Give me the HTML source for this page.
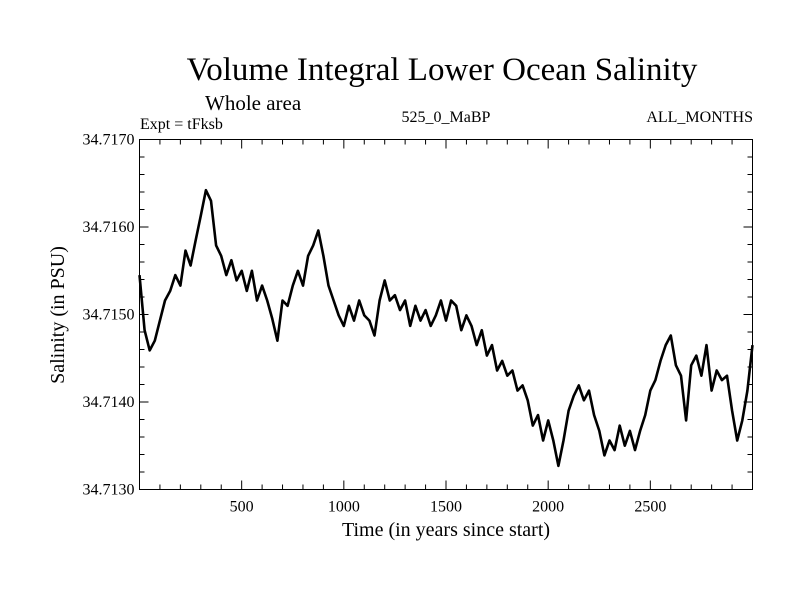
<!DOCTYPE html>
<html><head><meta charset="utf-8"><style>
body{margin:0;background:#fff}
svg text{font-family:"Liberation Serif",serif;fill:#000}
</style></head><body>
<svg width="800" height="600" xmlns="http://www.w3.org/2000/svg">
<rect width="800" height="600" fill="#fff"/>
<text x="442" y="80" font-size="33" text-anchor="middle">Volume Integral Lower Ocean Salinity</text>
<text x="205" y="110" font-size="21">Whole area</text>
<text x="140" y="129" font-size="16">Expt = tFksb</text>
<text x="446" y="122" font-size="16" text-anchor="middle">525_0_MaBP</text>
<text x="753" y="122" font-size="16" text-anchor="end">ALL_MONTHS</text>
<g id="axes"></g>
<path id="series" fill="none" stroke="#000" stroke-width="2.6" stroke-linejoin="round"/>
<rect x="139.5" y="139.5" width="613" height="350" fill="none" stroke="#000" stroke-width="1"/>
<text x="446" y="536" font-size="20" text-anchor="middle">Time (in years since start)</text>
<text transform="translate(64,315) rotate(-90)" font-size="20" text-anchor="middle">Salinity (in PSU)</text>
</svg>
<script>
const years = [];
for (let i = 0; i <= 120; i++) years.push(i * 25);
const salinity = [34.71545,34.71482,34.71459,34.71470,34.71493,34.71516,34.71527,34.71545,34.71533,34.71573,
34.71556,34.71585,34.71613,34.71642,34.71630,34.71579,34.71567,34.71545,34.71562,34.71539,
34.71550,34.71527,34.71550,34.71516,34.71533,34.71516,34.71495,34.71470,34.71516,34.71510,
34.71533,34.71550,34.71533,34.71567,34.71579,34.71596,34.71567,34.71533,34.71516,34.71499,
34.71487,34.71510,34.71493,34.71516,34.71499,34.71493,34.71476,34.71516,34.71539,34.71516,
34.71522,34.71505,34.71516,34.71487,34.71510,34.71493,34.71505,34.71487,34.71499,34.71516,
34.71493,34.71516,34.71510,34.71482,34.71499,34.71487,34.71465,34.71482,34.71453,34.71465,
34.71436,34.71447,34.71430,34.71436,34.71413,34.71419,34.71402,34.71373,34.71385,34.71356,
34.71379,34.71356,34.71327,34.71356,34.71390,34.71407,34.71419,34.71402,34.71413,34.71385,
34.71367,34.71339,34.71356,34.71345,34.71373,34.71350,34.71367,34.71345,34.71367,34.71385,
34.71413,34.71425,34.71447,34.71465,34.71476,34.71442,34.71430,34.71379,34.71442,34.71453,
34.71430,34.71465,34.71413,34.71436,34.71425,34.71430,34.71390,34.71356,34.71379,34.71413,34.71465];
const xTickVals = [500,1000,1500,2000,2500];
const yTickVals = [34.7130,34.7140,34.7150,34.7160,34.7170];
const yTickLabels = ["34.7130","34.7140","34.7150","34.7160","34.7170"];
const X0=139.5,X1=752.5,Y0=489.5,Y1=139.5,xmin=0,xmax=3000,ymin=34.713,ymax=34.717;
const sx=v=>X0+(v-xmin)/(xmax-xmin)*(X1-X0);
const sy=v=>Y0-(v-ymin)/(ymax-ymin)*(Y0-Y1);
let d='';
years.forEach((yr,i)=>{d+=(i?'L':'M')+sx(yr).toFixed(1)+','+sy(salinity[i]).toFixed(1);});
document.getElementById('series').setAttribute('d',d);
const g=document.getElementById('axes');
const NS='http://www.w3.org/2000/svg';
function line(x1,y1,x2,y2,name){const l=document.createElementNS(NS,'line');
l.setAttribute('x1',x1);l.setAttribute('y1',y1);l.setAttribute('x2',x2);l.setAttribute('y2',y2);
l.setAttribute('stroke','#000');l.setAttribute('stroke-width','1');


g.appendChild(l);}
for(let v=100;v<3000;v+=100){const major=v%500===0;const x=sx(v);
line(x,Y0,x,Y0-(major?9:5),'x-tick');line(x,Y1,x,Y1+(major?9:5),'x-tick-top');}
for(let k=1;k<20;k++){const v=ymin+k*0.0002;const major=k%5===0;const y=sy(v);
line(X0,y,X0+(major?9:5),y,'y-tick');line(X1,y,X1-(major?9:5),y,'y-tick-right');}
xTickVals.forEach(v=>{const t=document.createElementNS(NS,'text');
t.setAttribute('x',sx(v));t.setAttribute('y',Y0+22);t.setAttribute('font-size','16');t.setAttribute('text-anchor','middle');
t.textContent=v;


g.appendChild(t);});
yTickVals.forEach((v,i)=>{const t=document.createElementNS(NS,'text');
t.setAttribute('x',X0-5);t.setAttribute('y',sy(v)+5);t.setAttribute('font-size','16');t.setAttribute('text-anchor','end');
t.textContent=yTickLabels[i];


g.appendChild(t);});
</script>
</body></html>
